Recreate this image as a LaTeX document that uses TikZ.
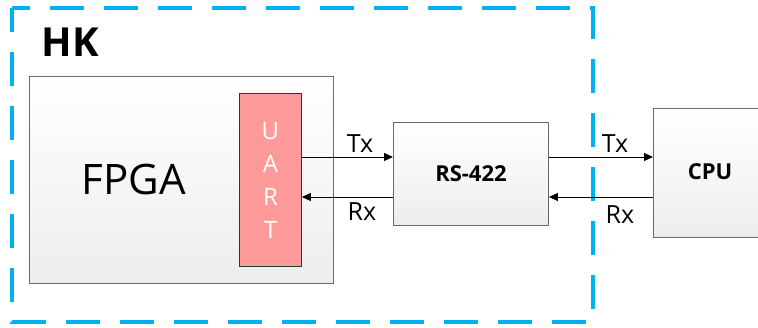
\documentclass[tikz,border=0pt]{standalone}
\usepackage{fontspec}
\setmainfont{Open Sans}
\usetikzlibrary{arrows.meta}

\definecolor{hkblue}{HTML}{00B0F0}
\definecolor{uartred}{HTML}{FF9A9A}
\definecolor{boxline}{HTML}{6A6A6A}

\tikzset{
  blockbox/.style={draw=boxline, line width=0.9pt, top color=white,
    bottom color=black!7, inner sep=0pt, anchor=north west},
  sig/.style={line width=0.9pt, -{Triangle[length=9pt,width=8pt]}},
  siglabel/.style={font=\fontsize{25}{28}\selectfont, inner sep=0pt}
}

\begin{document}
\begin{tikzpicture}[x=1pt,y=-1pt]

% Khung
\useasboundingbox (0,0) rectangle (758,327);

% Tham số
\def\ytx{157}  % mức đường Tx
\def\yrx{197}  % mức đường Rx

% Khối HK (nét đứt)
\draw[hkblue, line width=3.5pt, dash pattern=on 34pt off 20pt, dash phase=10pt]
(12,8) rectangle (593,322);
\node[anchor=west, font=\fontsize{40}{44}\selectfont\bfseries] (hk) at (38,42) {HK};

% Các khối
\node[blockbox, minimum width=304, minimum height=207] (fpga) at (29,76) {};
\node[font=\fontsize{42}{48}\selectfont] (fpgatext) at (134,179) {FPGA};
\node[draw=black!80, fill=uartred, line width=0.9pt, anchor=north west,
  minimum width=62, minimum height=173, inner sep=0pt,
  text=white, font=\fontsize{24}{33}\selectfont, align=center] (uart) at (239,93)
  {U\\A\\R\\T};
\node[blockbox, minimum width=155, minimum height=103] (rs) at (393,122) {};
\node[font=\fontsize{22}{24}\selectfont\bfseries] (rstext) at (rs.center) {RS-422};
\node[blockbox, minimum width=120, minimum height=129] (cpu) at (653,108) {};
\node[font=\fontsize{22}{24}\selectfont\bfseries] (cputext) at (710,172) {CPU};

% Tín hiệu
\draw[sig] (uart.east |- 0,\ytx) -- (rs.west |- 0,\ytx);
\draw[sig] (rs.west |- 0,\yrx) -- (uart.east |- 0,\yrx);
\draw[sig] (rs.east |- 0,\ytx) -- (cpu.west |- 0,\ytx);
\draw[sig] (cpu.west |- 0,\yrx) -- (rs.east |- 0,\yrx);

% Nhãn
\node[siglabel] (tx1) at (360,144) {Tx};
\node[siglabel] (rx1) at (362,212) {Rx};
\node[siglabel] (tx2) at (615,144) {Tx};
\node[siglabel] (rx2) at (620,215) {Rx};

\end{tikzpicture}
\end{document}
